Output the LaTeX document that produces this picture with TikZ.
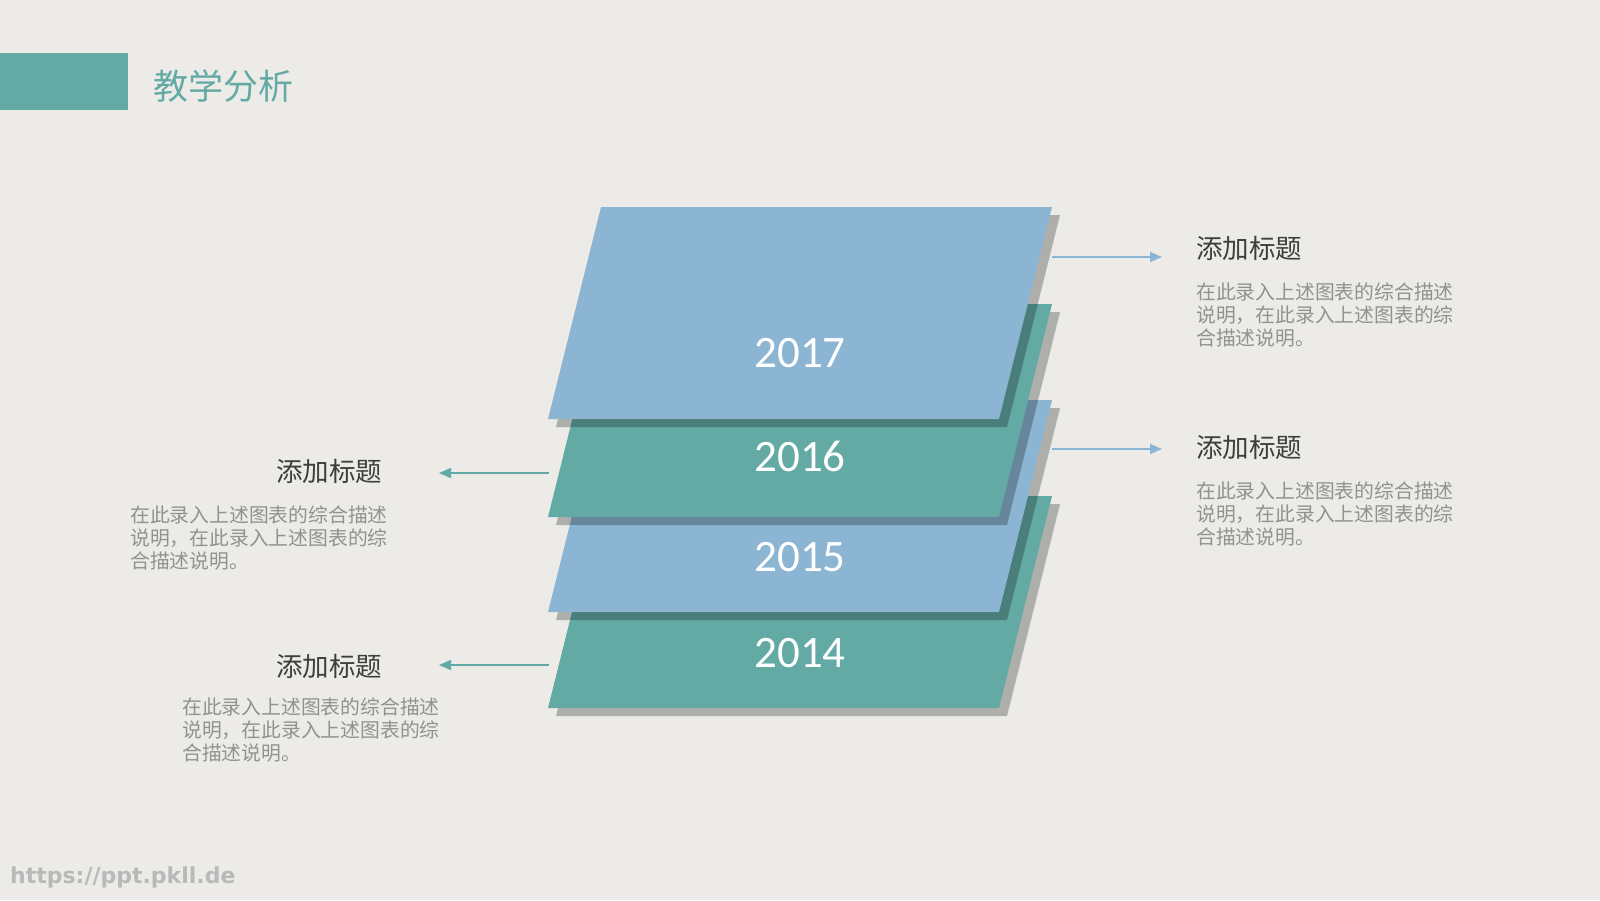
\documentclass[tikz,border=0pt]{standalone}
\usepackage{fontspec}
\usepackage{xcolor}
\usepackage{tikz}
\usetikzlibrary{positioning, calc, arrows.meta}

\newfontfamily\cjk{Noto Sans CJK SC}
\newfontfamily\yearfont{Carlito}
\newfontfamily\webfont{DejaVu Sans}

\definecolor{bgpaper}{RGB}{236,235,232}
\definecolor{tealbox}{RGB}{99,170,165}
\definecolor{bluebox}{RGB}{139,181,211}
\definecolor{headgray}{RGB}{62,62,62}
\definecolor{bodygray}{RGB}{145,145,145}
\definecolor{urlgray}{RGB}{185,185,185}

\begin{document}
\begin{tikzpicture}[x=1pt, y=-1pt]
		\tikzstyle{slabshadow}=[fill=black, opacity=0.26]
		\tikzstyle{year}=[text=white, font=\yearfont\fontsize{45}{54}\selectfont, inner sep=0]
		\tikzstyle{heading}=[text=headgray, font=\cjk\fontsize{26.5}{30}\selectfont, inner sep=0, anchor=west]
		\tikzstyle{body}=[text=bodygray, font=\cjk\fontsize{19.8}{23.3}\selectfont, inner sep=0, anchor=west, align=left]
		\tikzstyle{pointer}=[line width=1.5pt, -{Triangle[length=12pt, width=10pt]}]

		\useasboundingbox (0,0) rectangle (1600,900);
		\fill[bgpaper] (0,0) rectangle (1600,900);

		% title bar
		\fill[tealbox] (0,53) rectangle (128,110);
		\node (title) at (153,86) [anchor=west, inner sep=0, text=tealbox, font=\cjk\fontsize{35}{40}\selectfont] {教学分析};

		% 2014
		\fill[slabshadow, shift={(8,8)}] (601,496) -- (1052,496) -- (999,708) -- (548,708) -- cycle;
		\fill[tealbox] (601,496) -- (1052,496) -- (999,708) -- (548,708) -- cycle;
		% 2015
		\fill[slabshadow, shift={(8,8)}] (601,400) -- (1052,400) -- (999,612) -- (548,612) -- cycle;
		\fill[bluebox] (601,400) -- (1052,400) -- (999,612) -- (548,612) -- cycle;
		% 2016
		\fill[slabshadow, shift={(8,8)}] (601,304) -- (1052,304) -- (999,517) -- (548,517) -- cycle;
		\fill[tealbox] (601,304) -- (1052,304) -- (999,517) -- (548,517) -- cycle;
		% 2017
		\fill[slabshadow, shift={(8,8)}] (601,207) -- (1052,207) -- (999,419) -- (548,419) -- cycle;
		\fill[bluebox] (601,207) -- (1052,207) -- (999,419) -- (548,419) -- cycle;

		\node (y2017) at (800,353) [year] {2017};
		\node (y2016) at (800,456) [year] {2016};
		\node (y2015) at (800,557) [year] {2015};
		\node (y2014) at (800,653) [year] {2014};

		% right side
		\node (headR1) at (1196,248) [heading] {添加标题};
		\node (bodyR1) at (1196,315) [body] {在此录入上述图表的综合描述\\说明，在此录入上述图表的综\\合描述说明。};
		\node (headR2) at (1196,447) [heading] {添加标题};
		\node (bodyR2) at (1196,514) [body] {在此录入上述图表的综合描述\\说明，在此录入上述图表的综\\合描述说明。};

		% left side
		\node (headL1) at (276,471) [heading] {添加标题};
		\node (bodyL1) at (130,538) [body] {在此录入上述图表的综合描述\\说明，在此录入上述图表的综\\合描述说明。};
		\node (headL2) at (276,666) [heading] {添加标题};
		\node (bodyL2) at (182,730) [body] {在此录入上述图表的综合描述\\说明，在此录入上述图表的综\\合描述说明。};

		\coordinate (r1s) at (1052,257);
		\coordinate (r1e) at (1162,257);
		\coordinate (r2s) at (1052,449);
		\coordinate (r2e) at (1162,449);
		\coordinate (l1s) at (549,473);
		\coordinate (l1e) at (439,473);
		\coordinate (l2s) at (549,665);
		\coordinate (l2e) at (439,665);
		\draw [pointer, bluebox] (r1s) -- (r1e);
		\draw [pointer, bluebox] (r2s) -- (r2e);
		\draw [pointer, tealbox] (l1s) -- (l1e);
		\draw [pointer, tealbox] (l2s) -- (l2e);

		\node (site) at (10,877) [anchor=west, inner sep=0, text=urlgray, font=\webfont\bfseries\fontsize{22}{26}\selectfont] {https://ppt.pkll.de};
\end{tikzpicture}
\end{document}
